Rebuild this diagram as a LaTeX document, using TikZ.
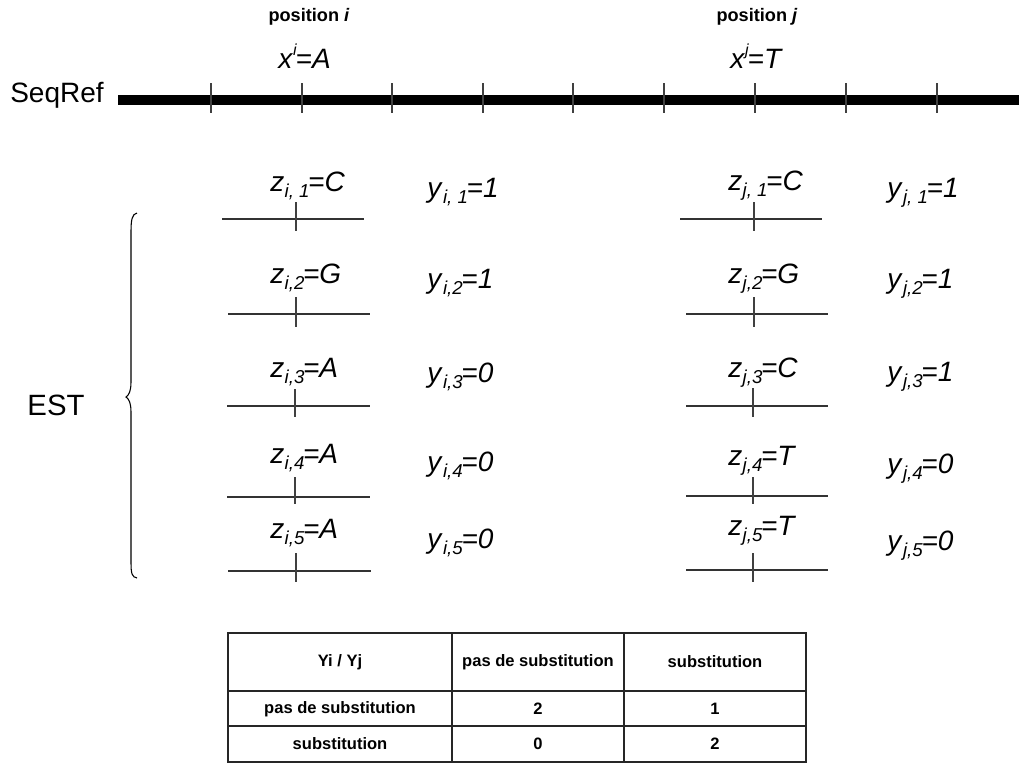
\documentclass[tikz,border=0pt]{standalone}
\usepackage{fontspec}
\setmainfont{Liberation Sans}
\newcommand{\zsub}[3]{\textit{#1}\kern0.3pt\raisebox{-0.45ex}{\fontsize{14}{14}\selectfont\textit{#2}}\kern-1pt\textit{=#3}}
\newcommand{\xsup}[3]{\textit{#1}\raisebox{0.85ex}{\fontsize{12}{12}\selectfont\textit{#2}}\kern-1pt\textit{=#3}}
\begin{document}
\begin{tikzpicture}[x=0.75pt,y=-0.75pt,
  formula/.style={font=\fontsize{21}{22}\selectfont, inner sep=0pt, anchor=base west},
  biglabel/.style={font=\fontsize{21}{22}\selectfont, inner sep=0pt},
  poslabel/.style={font=\bfseries\fontsize{13.6}{14}\selectfont, inner sep=0pt, anchor=base},
  cell/.style={font=\bfseries\fontsize{12.4}{14}\selectfont, inner sep=0pt},
  tick/.style={draw=black!75, line width=0.8pt},
  estline/.style={draw=black!80, line width=0.9pt},
  tbl/.style={draw=black!85, line width=1.2pt}]
\useasboundingbox (0,0) rectangle (1019,765);

% header labels
\node[poslabel] (posi) at (309,21) {position \textit{i}};
\node[poslabel] (posj) at (757,21) {position \textit{j}};
\node[formula] (xi) at (278,68) {\xsup{x}{i}{A}};
\node[formula] (xj) at (730,68) {\xsup{x}{j}{T}};

% reference sequence
\node[biglabel, anchor=base west] (seqref) at (10,102) {SeqRef};
\coordinate (sA) at (118,100);
\coordinate (sB) at (1019,100);
\draw[line width=6.8pt] (sA) -- (sB);
\foreach \x in {211,302,392,483,573,664,755,846,937}
  \draw[tick] (\x,83) -- (\x,113);

% EST label and brace
\node[biglabel, font=\fontsize{22}{22}\selectfont] (est) at (56,405) {EST};
\draw[line width=0.8pt] (137,213) .. controls (132,214) and (131,220) .. (131,232) -- (131,382)
  .. controls (131,391) and (129,395) .. (126,397)
  .. controls (129,399) and (131,403) .. (131,412) -- (131,562)
  .. controls (131,574) and (132,577) .. (137,578);

% i side rows
\node[formula] (zi1) at (270,191) {\zsub{z}{i, 1}{C}};
\node[formula] (zi2) at (270,283) {\zsub{z}{i,2}{G}};
\node[formula] (zi3) at (270,377) {\zsub{z}{i,3}{A}};
\node[formula] (zi4) at (270,463) {\zsub{z}{i,4}{A}};
\node[formula] (zi5) at (270,538) {\zsub{z}{i,5}{A}};
\node[formula] (yi1) at (427,197) {\zsub{y}{i, 1}{1}};
\node[formula] (yi2) at (427,288) {\zsub{y}{i,2}{1}};
\node[formula] (yi3) at (427,382) {\zsub{y}{i,3}{0}};
\node[formula] (yi4) at (427,471) {\zsub{y}{i,4}{0}};
\node[formula] (yi5) at (427,548) {\zsub{y}{i,5}{0}};

\draw[estline] (222,219) -- (364,219); \draw[tick] (296,202) -- (296,231);
\draw[estline] (228,314) -- (370,314); \draw[tick] (296,297) -- (296,327);
\draw[estline] (227,406) -- (370,406); \draw[tick] (295,389) -- (295,417);
\draw[estline] (227,497) -- (370,497); \draw[tick] (295,477) -- (295,504);
\draw[estline] (228,571) -- (371,571); \draw[tick] (296,553) -- (296,582);

% j side rows
\node[formula] (zj1) at (728,190) {\zsub{z}{j, 1}{C}};
\node[formula] (zj2) at (728,283) {\zsub{z}{j,2}{G}};
\node[formula] (zj3) at (728,377) {\zsub{z}{j,3}{C}};
\node[formula] (zj4) at (728,465) {\zsub{z}{j,4}{T}};
\node[formula] (zj5) at (728,535) {\zsub{z}{j,5}{T}};
\node[formula] (yj1) at (887,197) {\zsub{y}{j, 1}{1}};
\node[formula] (yj2) at (887,288) {\zsub{y}{j,2}{1}};
\node[formula] (yj3) at (887,381) {\zsub{y}{j,3}{1}};
\node[formula] (yj4) at (887,473) {\zsub{y}{j,4}{0}};
\node[formula] (yj5) at (887,550) {\zsub{y}{j,5}{0}};

\draw[estline] (680,219) -- (822,219); \draw[tick] (754,202) -- (754,231);
\draw[estline] (686,314) -- (828,314); \draw[tick] (754,297) -- (754,327);
\draw[estline] (686,406) -- (828,406); \draw[tick] (753,388) -- (753,417);
\draw[estline] (686,496) -- (828,496); \draw[tick] (753,477) -- (753,504);
\draw[estline] (686,570) -- (828,570); \draw[tick] (753,553) -- (753,582);

% table
\draw[tbl] (228,633) rectangle (806,762);
\draw[tbl] (228,691) -- (806,691);
\draw[tbl] (228,726) -- (806,726);
\draw[tbl] (452,633) -- (452,762);
\draw[tbl] (624,633) -- (624,762);
\node[cell] (h0) at (340,662) {Yi / Yj};
\node[cell] (h1) at (538,662) {pas de substitution};
\node[cell] (h2) at (715,662) {substitution};
\node[cell] (r1a) at (340,709) {pas de substitution};
\node[cell] (r1b) at (538,709) {2};
\node[cell] (r1c) at (715,709) {1};
\node[cell] (r2a) at (340,744) {substitution};
\node[cell] (r2b) at (538,744) {0};
\node[cell] (r2c) at (715,744) {2};
\end{tikzpicture}
\end{document}
